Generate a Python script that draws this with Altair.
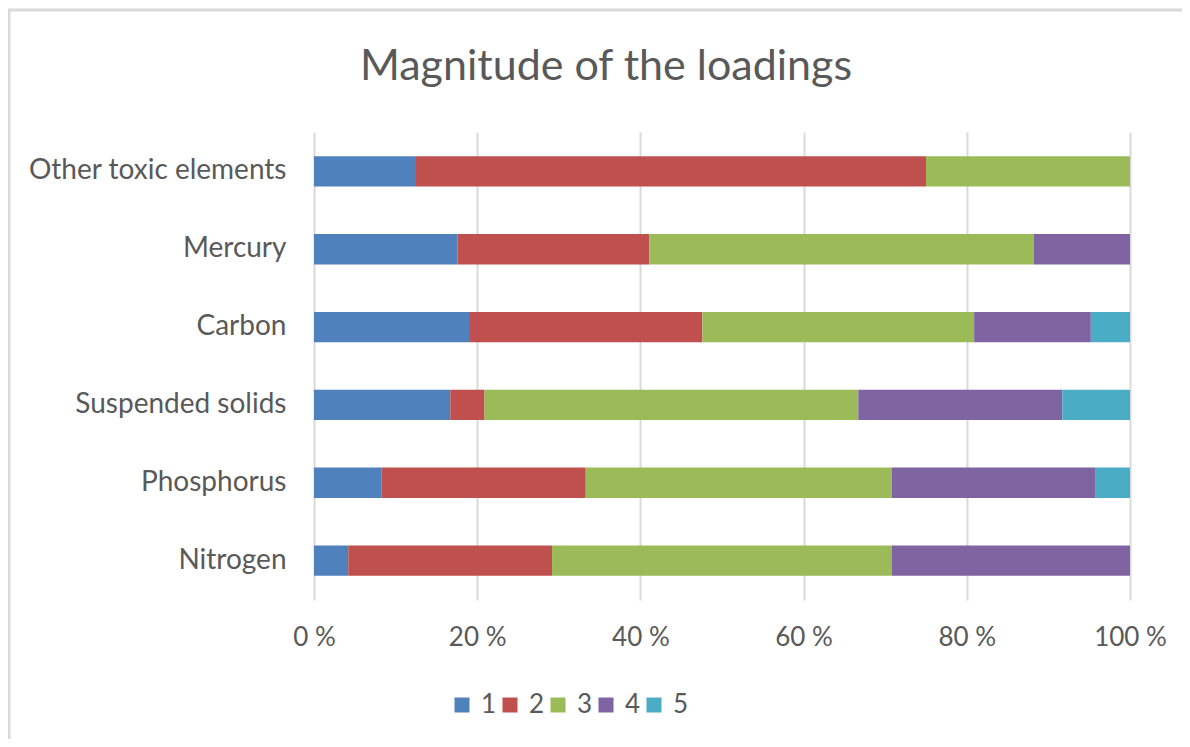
import altair as alt
import pandas as pd

categories = ["Other toxic elements", "Mercury", "Carbon", "Suspended solids", "Phosphorus", "Nitrogen"]
series = ["1", "2", "3", "4", "5"]
s1 = [12.5, 17.6, 19.0, 16.7, 8.3, 4.2]
s2 = [62.5, 23.5, 28.6, 4.2, 25.0, 25.0]
s3 = [25.0, 47.1, 33.3, 45.8, 37.5, 41.7]
s4 = [0.0, 11.8, 14.3, 25.0, 25.0, 29.2]
s5 = [0.0, 0.0, 4.8, 8.3, 4.2, 0.0]
colors = ["#4f81bd", "#c0504d", "#9bbb59", "#8064a2", "#4bacc6"]
title_text = "Magnitude of the loadings"

rows = []
for name, vals in zip(series, [s1, s2, s3, s4, s5]):
    for c, v in zip(categories, vals):
        rows.append({"category": c, "series": name, "value": v})
df = pd.DataFrame(rows)

FONT = "Lato"
GRAY = "#595959"

bars = alt.Chart(df).mark_bar().encode(
    y=alt.Y("category:N", sort=categories, title=None,
            scale=alt.Scale(paddingInner=0.61, paddingOuter=0.31),
            axis=alt.Axis(labelFont=FONT, labelFontSize=28, labelColor=GRAY,
                          labelPadding=28, labelLimit=0, ticks=False,
                          domain=False, grid=False)),
    x=alt.X("value:Q", stack="normalize", title=None,
            scale=alt.Scale(domain=[0, 1], nice=False),
            axis=alt.Axis(values=[0, 0.2, 0.4, 0.6, 0.8, 1.0],
                          labelExpr="format(datum.value*100, 'd') + ' %'",
                          labelFont=FONT, labelFontSize=26, labelColor=GRAY,
                          labelPadding=24, labelFlush=False, ticks=False, domain=False,
                          grid=True, gridColor="#d9d9d9", gridWidth=2)),
    color=alt.Color("series:N", scale=alt.Scale(domain=series, range=colors),
                    legend=alt.Legend(title=None, orient="none", direction="horizontal",
                                      legendX=135, legendY=560,
                                      symbolType="square", symbolSize=225,
                                      symbolStrokeWidth=0,
                                      labelFont=FONT, labelFontSize=26, labelColor=GRAY,
                                      labelOffset=6, columnPadding=0)),
    order=alt.Order("series:N", sort="ascending"),
)

frame = alt.Chart(pd.DataFrame({"f": [0]})).mark_rect(
    fill=None, stroke="#d9d9d9", strokeWidth=3
).encode(
    x=alt.value(-305), x2=alt.value(920),
    y=alt.value(-122), y2=alt.value(700),
)

title = alt.Chart(pd.DataFrame({"t": [title_text]})).mark_text(
    font=FONT, fontSize=43, color=GRAY, align="center", baseline="alphabetic"
).encode(
    text="t:N", x=alt.value(292), y=alt.value(-52),
)

chart = alt.layer(bars, frame, title).properties(
    width=816, height=468,
    padding={"left": 306, "top": 124, "right": 52, "bottom": 139},
    autosize=alt.AutoSizeParams(type="none"),
).configure_view(stroke=None)

chart.save("out.html", embed_options={"renderer": "svg", "actions": False})
